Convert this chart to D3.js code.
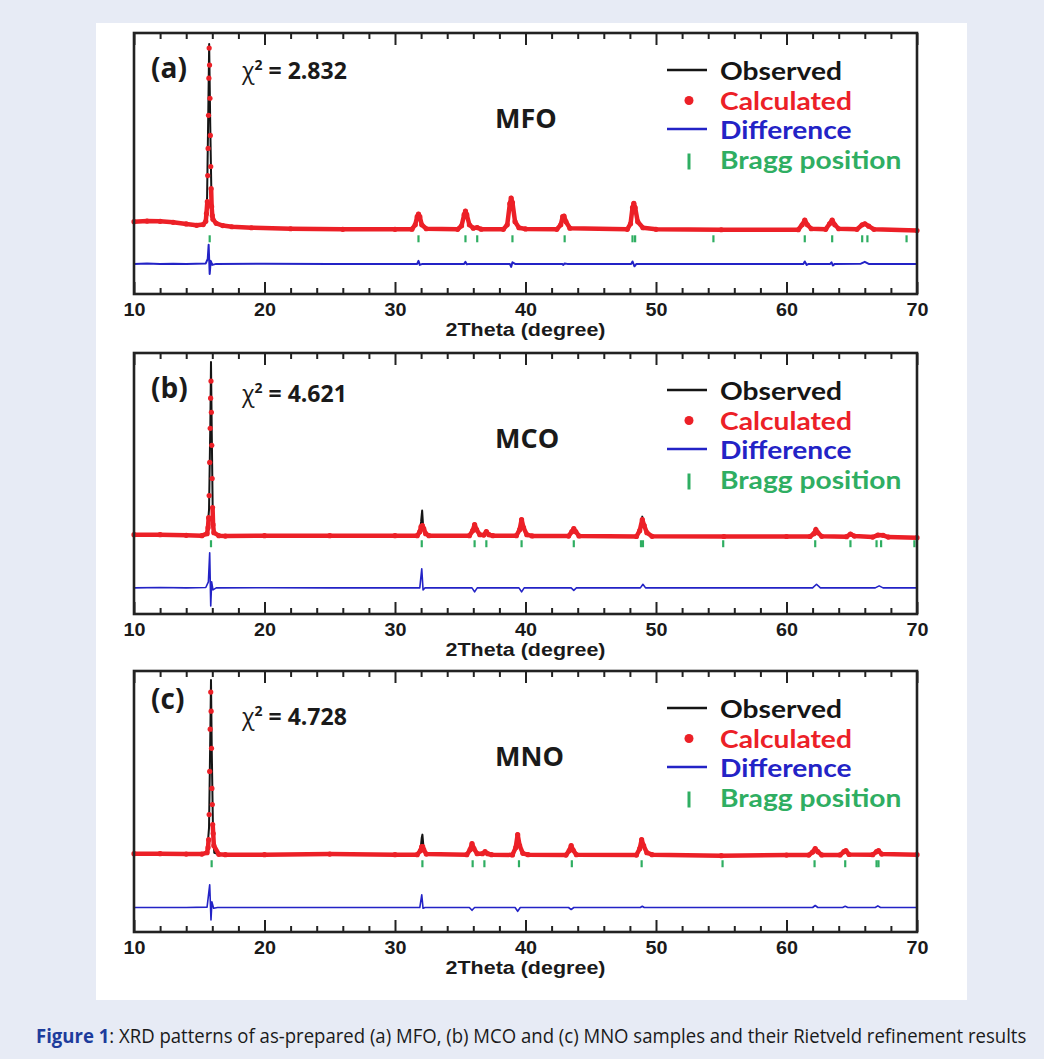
<!DOCTYPE html>
<html>
<head>
<meta charset="utf-8">
<script src="https://cdn.jsdelivr.net/npm/d3@7"></script>
<style>
  body { margin: 0; background: #e7ebf5; }
</style>
</head>
<body>
<div id="chart"></div>
<script>
// ---- data (2theta in degree, intensity in a.u.) ----
const xTicks = [10, 20, 30, 40, 50, 60, 70];
const minorTicks = d3.range(12, 70, 2).filter(v => v % 10 != 0);
const panelLabels = ["(a)", "(b)", "(c)"];
const chiValues = ["2.832", "4.621", "4.728"];
const sampleNames = ["MFO", "MCO", "MNO"];
const legendNames = ["Observed", "Calculated", "Difference", "Bragg position"];
const braggLevels = [275, 350, 340];

const obsMFO = [
  [10, 360], [11, 363], [12, 362], [13, 357], [14, 349], [14.8, 342], [15.3, 346], [15.5, 372], [15.6, 480], [15.68, 850],
  [15.76, 1245], [15.84, 850], [15.93, 500], [16.05, 382], [16.3, 352], [16.8, 341], [17.5, 335], [19, 330], [22, 325], [26, 322], [30, 322],
  [31.3, 323], [31.55, 345], [31.7, 385], [31.8, 400], [31.9, 385], [32.05, 345], [32.4, 325],
  [34.8, 322], [35.1, 340], [35.3, 395], [35.4, 415], [35.5, 395], [35.7, 345], [36.0, 328], [36.3, 331], [36.6, 323],
  [38.3, 322], [38.6, 345], [38.8, 450], [38.9, 482], [39.0, 455], [39.2, 360], [39.5, 330], [40, 324],
  [42.4, 322], [42.7, 345], [42.85, 385], [42.95, 390], [43.1, 360], [43.4, 328],
  [47.8, 322], [48.05, 350], [48.2, 430], [48.3, 457], [48.4, 430], [48.6, 360], [49, 330], [50, 322], [55, 320],
  [60.9, 320], [61.2, 345], [61.4, 370], [61.6, 345], [61.9, 325],
  [63.0, 322], [63.3, 350], [63.5, 370], [63.7, 345], [64.0, 325],
  [65.4, 322], [65.8, 345], [66.0, 350], [66.3, 338], [66.7, 322], [70, 316]
];
const calcMFO = [
  [10, 360], [11, 363], [12, 362], [13, 357], [14, 349], [14.8, 342], [15.3, 346], [15.5, 362], [15.55, 400], [15.62, 460],
  [15.65, 590], [15.68, 725], [15.71, 890], [15.74, 1075], [15.76, 1225], [15.79, 1140], [15.82, 975], [15.85, 790], [15.88, 635],
  [15.91, 525], [15.95, 435], [16.0, 390], [16.05, 372], [16.3, 352], [16.8, 341], [17.5, 335], [19, 330], [22, 325], [26, 322], [30, 322],
  [31.3, 323], [31.55, 345], [31.7, 385], [31.8, 398], [31.9, 385], [32.05, 345], [32.4, 325],
  [34.8, 322], [35.1, 340], [35.3, 395], [35.4, 413], [35.5, 395], [35.7, 345], [36.0, 328], [36.3, 331], [36.6, 323],
  [38.3, 322], [38.6, 345], [38.8, 450], [38.9, 478], [39.0, 455], [39.2, 360], [39.5, 330], [40, 324],
  [42.4, 322], [42.7, 345], [42.85, 385], [42.95, 388], [43.1, 360], [43.4, 328],
  [47.8, 322], [48.05, 350], [48.2, 430], [48.3, 452], [48.4, 430], [48.6, 360], [49, 330], [50, 322], [55, 320],
  [60.9, 320], [61.2, 345], [61.4, 368], [61.6, 345], [61.9, 325],
  [63.0, 322], [63.3, 350], [63.5, 368], [63.7, 345], [64.0, 325],
  [65.4, 322], [65.8, 345], [66.0, 350], [66.3, 338], [66.7, 322], [70, 316]
];
const diffMFO = [
  [10, 150], [11, 152], [12, 149], [13, 151], [14, 150], [15.5, 152], [15.65, 175], [15.72, 245], [15.8, 100], [15.88, 165],
  [16.0, 145], [16.3, 150], [20, 151], [25, 149], [31.7, 150], [31.8, 165], [31.9, 145], [32.1, 150],
  [35.3, 150], [35.4, 160], [35.5, 148], [35.7, 150], [38.8, 150], [38.9, 135], [39.0, 158], [39.2, 150],
  [42.8, 150], [42.9, 145], [43.0, 152], [43.2, 150], [48.1, 150], [48.2, 162], [48.35, 138], [48.5, 150],
  [61.3, 150], [61.4, 162], [61.55, 145], [61.7, 150], [63.35, 150], [63.45, 158], [63.55, 142], [63.7, 150],
  [65.7, 151], [66.0, 160], [66.3, 150], [70, 150]
];
const braggMFO = [15.8, 31.8, 35.4, 36.3, 39.0, 43.0, 48.2, 48.4, 54.4, 61.4, 63.5, 65.8, 66.2, 69.2];

const obsMCO = [
  [10, 395], [12, 395], [14, 392], [15.2, 390], [15.6, 400], [15.75, 520], [15.85, 950], [15.9, 1255], [15.96, 900], [16.03, 520],
  [16.15, 400], [16.5, 390], [17, 388], [20, 390], [25, 390], [30, 390],
  [31.7, 390], [31.9, 410], [32.0, 460], [32.08, 515], [32.15, 440], [32.3, 400], [32.6, 390],
  [35.7, 390], [35.95, 415], [36.1, 447], [36.25, 420], [36.5, 395], [36.8, 393], [37.0, 410], [37.2, 395], [37.5, 390],
  [39.3, 390], [39.55, 420], [39.7, 472], [39.85, 430], [40.1, 395], [40.5, 389],
  [43.3, 388], [43.55, 410], [43.7, 427], [43.85, 410], [44.1, 389],
  [48.5, 386], [48.75, 415], [48.95, 485], [49.1, 440], [49.3, 405], [49.7, 387],
  [55.2, 386], [60, 386],
  [61.8, 386], [62.1, 400], [62.25, 430], [62.4, 405], [62.7, 387],
  [64.6, 385], [64.9, 398], [65.2, 388],
  [66.6, 383], [67.0, 393], [67.4, 392], [67.8, 383], [70, 380]
];
const calcMCO = [
  [10, 395], [12, 395], [14, 392], [15.2, 390], [15.6, 400], [15.67, 430], [15.72, 480], [15.76, 590], [15.80, 755], [15.84, 925],
  [15.87, 1075], [15.90, 1160], [15.93, 1005], [15.96, 840], [15.99, 675], [16.02, 530], [16.06, 445], [16.12, 405],
  [16.5, 390], [17, 388], [20, 390], [25, 390], [30, 390],
  [31.7, 390], [31.9, 410], [32.0, 435], [32.1, 440], [32.2, 425], [32.35, 400], [32.6, 390],
  [35.7, 390], [35.95, 415], [36.1, 445], [36.25, 420], [36.5, 395], [36.8, 393], [37.0, 410], [37.2, 395], [37.5, 390],
  [39.3, 390], [39.55, 420], [39.7, 470], [39.85, 430], [40.1, 395], [40.5, 389],
  [43.3, 388], [43.55, 410], [43.7, 425], [43.85, 410], [44.1, 389],
  [48.5, 386], [48.75, 415], [48.95, 470], [49.1, 440], [49.3, 405], [49.7, 387],
  [55.2, 386], [60, 386],
  [61.8, 386], [62.1, 400], [62.25, 420], [62.4, 405], [62.7, 387],
  [64.6, 385], [64.9, 398], [65.2, 388],
  [66.6, 383], [67.0, 393], [67.4, 392], [67.8, 383], [70, 380]
];
const diffMCO = [
  [10, 130], [12, 132], [14, 130], [15.5, 132], [15.7, 160], [15.8, 305], [15.88, 40], [15.95, 160], [16.05, 120], [16.3, 130],
  [20, 131], [25, 130], [31.9, 130], [32.05, 225], [32.15, 120], [32.3, 130],
  [35.9, 130], [36.1, 110], [36.3, 130], [39.5, 130], [39.7, 110], [39.9, 130], [43.5, 130], [43.7, 118], [43.9, 130],
  [48.8, 130], [49.0, 148], [49.2, 130], [62.0, 130], [62.3, 148], [62.6, 130], [66.8, 130], [67.1, 140], [67.4, 130], [70, 130]
];
const braggMCO = [15.9, 32.05, 36.1, 37.0, 39.7, 43.7, 48.85, 49.0, 55.15, 62.2, 64.9, 66.9, 67.25, 69.8];

const obsMNO = [
  [10, 390], [12, 390], [14, 388], [15.2, 388], [15.6, 395], [15.75, 520], [15.84, 950], [15.9, 1255], [15.96, 900], [16.05, 520],
  [16.15, 395], [16.5, 387], [17, 385], [20, 385], [25, 388], [30, 385],
  [31.7, 385], [31.95, 405], [32.05, 470], [32.1, 485], [32.2, 410], [32.4, 388],
  [35.5, 385], [35.75, 410], [35.9, 440], [36.05, 415], [36.3, 390], [36.7, 390], [36.9, 400], [37.1, 390], [37.4, 385],
  [39.0, 384], [39.25, 420], [39.4, 487], [39.55, 430], [39.8, 392], [40.2, 385],
  [43.1, 383], [43.35, 405], [43.5, 430], [43.65, 408], [43.9, 385],
  [48.5, 383], [48.75, 415], [48.9, 462], [49.05, 430], [49.3, 395], [49.7, 385],
  [55, 380], [60, 383],
  [61.7, 383], [62.0, 398], [62.2, 415], [62.4, 400], [62.7, 384],
  [64.1, 384], [64.4, 400], [64.55, 405], [64.8, 386],
  [66.6, 385], [66.9, 400], [67.05, 405], [67.3, 388], [70, 385]
];
const calcMNO = [
  [10, 390], [12, 390], [14, 388], [15.2, 388], [15.6, 395], [15.67, 420], [15.72, 460], [15.76, 585], [15.80, 800], [15.84, 1010],
  [15.88, 1195], [15.91, 1100], [15.94, 915], [15.97, 715], [16.0, 635], [16.03, 535], [16.07, 490], [16.12, 430],
  [16.5, 387], [17, 385], [20, 385], [25, 388], [30, 385],
  [31.7, 385], [31.95, 405], [32.05, 425], [32.12, 425], [32.2, 410], [32.4, 388],
  [35.5, 385], [35.75, 410], [35.9, 440], [36.05, 415], [36.3, 390], [36.7, 390], [36.9, 400], [37.1, 390], [37.4, 385],
  [39.0, 384], [39.25, 420], [39.4, 485], [39.55, 430], [39.8, 392], [40.2, 385],
  [43.1, 383], [43.35, 405], [43.5, 430], [43.65, 408], [43.9, 385],
  [48.5, 383], [48.75, 415], [48.9, 460], [49.05, 430], [49.3, 395], [49.7, 385],
  [55, 380], [60, 383],
  [61.7, 383], [62.0, 398], [62.2, 415], [62.4, 400], [62.7, 384],
  [64.1, 384], [64.4, 400], [64.55, 405], [64.8, 386],
  [66.6, 385], [66.9, 400], [67.05, 405], [67.3, 388], [70, 385]
];
const diffMNO = [
  [10, 122], [14, 122], [15.6, 124], [15.8, 235], [15.9, 60], [15.97, 150], [16.1, 118], [16.4, 122], [25, 122],
  [31.9, 122], [32.05, 185], [32.15, 118], [32.3, 122], [35.7, 122], [35.9, 108], [36.1, 122],
  [39.2, 122], [39.4, 103], [39.6, 122], [43.3, 122], [43.5, 112], [43.7, 122], [48.8, 122], [48.95, 128], [49.1, 122],
  [62.0, 122], [62.2, 132], [62.4, 122], [64.3, 122], [64.5, 128], [64.7, 122], [66.8, 122], [67.0, 130], [67.2, 122], [70, 122]
];
const braggMNO = [15.95, 32.1, 35.95, 36.85, 39.5, 43.55, 48.9, 55.1, 62.15, 64.5, 66.9, 67.05];

const observed = [obsMFO, obsMCO, obsMNO];
const calculated = [calcMFO, calcMCO, calcMNO];
const difference = [diffMFO, diffMCO, diffMNO];
const bragg = [braggMFO, braggMCO, braggMNO];

// ---- layout ----
const width = 1044, height = 1059;
const plotLeft = 134, plotRight = 917, plotHeight = 261;
const panelTops = [33, 353, 671];
const labelDy = [45, 45, 38];
const chiDy = [46, 49, 54];
const dotOnlyAbove = 560; // calculated profile is drawn as separate dots above this level

const colObs = "#151515", colCalc = "#ec2027", colDiff = "#2323c6", colBragg = "#2fae62";
const chartFont = "'Open Sans', Lato, sans-serif";
const legendFont = "Lato, 'Open Sans', sans-serif";
const axisFont = "'Liberation Sans', Arial, sans-serif";

const svg = d3.select('#chart')
    .append('svg')
    .attr('width', width)
    .attr('height', height)

svg.append('rect').attr('width', width).attr('height', height).attr('fill', '#e7ebf5')
svg.append('rect').attr('x', 96).attr('y', 23).attr('width', 871).attr('height', 977).attr('fill', '#ffffff')

const x = d3.scaleLinear().domain([10, 70]).range([plotLeft, plotRight]);

panelTops.forEach(function (top, p) {
    const bottom = top + plotHeight;
    const y = d3.scaleLinear().domain([0, 1300]).range([bottom, top]);
    const g = svg.append('g')

    // observed (thin black line) under the calculated profile
    g.append('path')
        .datum(observed[p])
        .attr('fill', 'none')
        .attr('stroke', colObs)
        .attr('stroke-width', 2)
        .attr('stroke-linejoin', 'round')
        .attr('d', d3.line().x(d => x(d[0])).y(d => y(d[1])))

    g.append('path')
        .datum(calculated[p])
        .attr('fill', 'none')
        .attr('stroke', colCalc)
        .attr('stroke-width', 4.5)
        .attr('stroke-linejoin', 'round')
        .attr('d', d3.line().defined(d => d[1] < dotOnlyAbove).x(d => x(d[0])).y(d => y(d[1])))

    g.selectAll('circle.calc')
        .data(calculated[p])
        .enter()
        .append('circle')
        .attr('class', 'calc')
        .attr('cx', d => x(d[0]))
        .attr('cy', d => y(d[1]))
        .attr('r', 2.6)
        .attr('fill', colCalc)

    // difference curve
    g.append('path')
        .datum(difference[p])
        .attr('fill', 'none')
        .attr('stroke', colDiff)
        .attr('stroke-width', p == 0 ? 2 : 1.6)
        .attr('stroke-linejoin', 'round')
        .attr('d', d3.line().x(d => x(d[0])).y(d => y(d[1])))

    // Bragg positions
    g.selectAll('line.bragg')
        .data(bragg[p])
        .enter()
        .append('line')
        .attr('class', 'bragg')
        .attr('x1', d => x(d)).attr('x2', d => x(d))
        .attr('y1', y(braggLevels[p]) - 3.5)
        .attr('y2', y(braggLevels[p]) + 3.5)
        .attr('stroke', colBragg)
        .attr('stroke-width', 2.2)

    // axes with inward ticks, top and bottom
    const axes = [
        d3.axisBottom(x).tickValues(xTicks).tickSize(-12).tickPadding(9).tickFormat(d3.format('d')),
        d3.axisBottom(x).tickValues(minorTicks).tickSize(-6).tickFormat(''),
        d3.axisTop(x).tickValues(xTicks).tickSize(-12).tickFormat(''),
        d3.axisTop(x).tickValues(minorTicks).tickSize(-6).tickFormat('')
    ];
    axes.forEach(function (ax, i) {
        const a = g.append('g')
            .attr('transform', `translate(0, ${i < 2 ? bottom : top})`)
            .call(ax.tickSizeOuter(0))
        a.select('.domain').remove()
        a.selectAll('.tick line').attr('stroke', '#222').attr('stroke-width', 2)
        a.selectAll('.tick text')
            .attr('font-family', axisFont)
            .attr('font-weight', 'bold')
            .attr('font-size', 18)
            .attr('fill', '#1a1a1a')
            .attr('textLength', 22)
            .attr('lengthAdjust', 'spacingAndGlyphs')
    })

    g.append('rect')
        .attr('x', plotLeft).attr('y', top)
        .attr('width', plotRight - plotLeft).attr('height', plotHeight)
        .attr('fill', 'none')
        .attr('stroke', '#222')
        .attr('stroke-width', 2.6)

    g.append('text')
        .attr('x', (plotLeft + plotRight) / 2)
        .attr('y', bottom + 42)
        .attr('text-anchor', 'middle')
        .attr('font-family', axisFont)
        .attr('font-weight', 'bold')
        .attr('font-size', 18)
        .attr('fill', '#1a1a1a')
        .attr('textLength', 160)
        .attr('lengthAdjust', 'spacingAndGlyphs')
        .text('2Theta (degree)')

    // panel annotations
    g.append('text')
        .attr('x', plotLeft + 17).attr('y', top + labelDy[p])
        .attr('font-family', chartFont).attr('font-weight', 'bold').attr('font-size', 28)
        .attr('fill', '#1a1a1a')
        .text(panelLabels[p])

    const chi = g.append('text')
        .attr('x', plotLeft + 108).attr('y', top + chiDy[p])
        .attr('font-family', chartFont).attr('font-weight', 'bold').attr('font-size', 23)
        .attr('fill', '#1a1a1a')
    chi.append('tspan').attr('font-weight', 'normal').text('χ')
    chi.append('tspan').attr('dy', -9).attr('font-size', 14).text('2')
    chi.append('tspan').attr('dy', 9).text(' = ' + chiValues[p])

    g.append('text')
        .attr('x', plotLeft + 361).attr('y', top + 95)
        .attr('font-family', chartFont).attr('font-weight', 'bold').attr('font-size', 27)
        .attr('fill', '#1a1a1a')
        .text(sampleNames[p])

    // legend
    const legendColors = [colObs, colCalc, colDiff, colBragg];
    const leg = g.selectAll('g.legend')
        .data(legendNames)
        .enter()
        .append('g')
        .attr('class', 'legend')
        .attr('transform', (d, i) => `translate(0, ${top + 47 + i * 29.5})`)
    const legText = leg.append('text')
        .attr('x', 0).attr('y', 0)
        .attr('font-family', legendFont).attr('font-weight', 'bold').attr('font-size', 24.5)
        .attr('fill', (d, i) => legendColors[i])
        .text(d => d)
    // the original lettering is wider than Lato: stretch so "Observed" spans 122 px
    const stretch = 122 / legText.node().getComputedTextLength();
    legText.attr('transform', `translate(720, 0) scale(${stretch}, 1)`)
    leg.filter((d, i) => i == 0 || i == 2)
        .append('line')
        .attr('x1', 667).attr('x2', 707).attr('y1', -10).attr('y2', -10)
        .attr('stroke', (d, i) => i == 0 ? colObs : colDiff)
        .attr('stroke-width', 2.5)
    leg.filter((d, i) => i == 1)
        .append('circle')
        .attr('cx', 689).attr('cy', -9).attr('r', 4.5)
        .attr('fill', colCalc)
    leg.filter((d, i) => i == 3)
        .append('line')
        .attr('x1', 689).attr('x2', 689).attr('y1', -15).attr('y2', 1)
        .attr('stroke', colBragg)
        .attr('stroke-width', 3)
})

// caption, squeezed horizontally to the width of the original line
const caption = svg.append('text')
    .attr('font-family', "'Open Sans', sans-serif")
    .attr('font-size', 20)
caption.append('tspan').attr('fill', '#1d3c9c').attr('font-weight', 'bold').text('Figure 1')
caption.append('tspan').attr('fill', '#1a1a1a')
    .text(': XRD patterns of as-prepared (a) MFO, (b) MCO and (c) MNO samples and their Rietveld refinement results')
const captionScale = 991 / caption.node().getComputedTextLength();
caption.attr('transform', `translate(36, 1043) scale(${captionScale}, 1)`)
</script>
</body>
</html>
